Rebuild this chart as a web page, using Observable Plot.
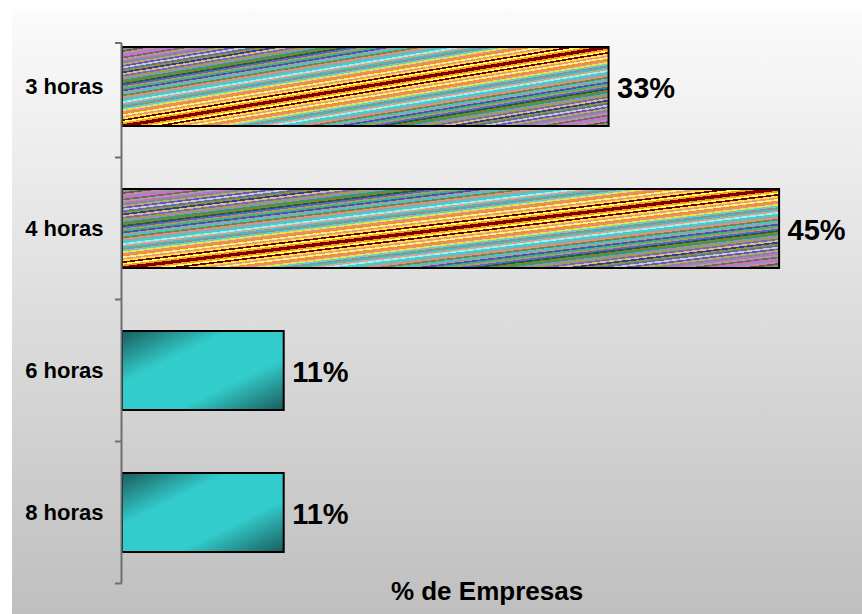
<!DOCTYPE html>
<html>
<head>
<meta charset="utf-8">
<script src="https://cdn.jsdelivr.net/npm/d3@7"></script>
<script src="https://cdn.jsdelivr.net/npm/@observablehq/plot@0.6"></script>
<style>
  html, body { margin: 0; padding: 0; background: #ffffff; }
  #chart { width: 862px; height: 614px; }
</style>
</head>
<body>
<div id="chart"></div>
<script>
// ---- data ----
const categories = ["3 horas", "4 horas", "6 horas", "8 horas"];
const values = [33.1, 44.7, 11.0, 11.0];
const xLabel = "% de Empresas";

// ---- styles ----
const stripeHalf = [
  "#e040e0","#8090a0","#606030","#d080c0","#9098a8","#e060e0","#707040","#a0a0b0",
  "#c070c0","#8088a0","#b0b060","#7050c0","#c8c8c8","#6070a0","#909040","#304090",
  "#d0c080","#8060c0","#a0a040","#9090c0","#30a060","#808030","#206040","#6060d0",
  "#a0a060","#40b080","#5050b0","#a0a0a0","#40c8c8","#808040","#e09080","#80b0b0",
  "#40d0d0","#a0f0f0","#e0a090","#40c0c0","#909090","#60d0d0","#f0e040","#e09080",
  "#f09030","#fff080","#e0a080","#ffe040","#700000","#ffff60","#f0a020","#800000"
];
const FONT = "'Liberation Sans', Arial, Helvetica, sans-serif";

const table = categories.map((c, i) => ({category: c, value: values[i], idx: i}));

const chart = Plot.plot({
  width: 862,
  height: 614,
  marginLeft: 122,
  marginRight: 5,
  marginTop: 14.5,
  marginBottom: 29.5,
  style: {background: "transparent", fontFamily: FONT, overflow: "visible"},
  x: {domain: [0, 50], axis: null},
  y: {domain: categories, axis: null, paddingInner: 0.445, paddingOuter: 0.2225},
  color: {type: "identity"},
  marks: [
    Plot.barX(table, {
      x: "value", y: "category",
      fill: d => d.idx < 2 ? "url(#stripes)" : "url(#teal)",
      stroke: "#000000", strokeWidth: 2
    }),
    Plot.text(table, {
      x: "value", y: "category",
      text: d => Math.round(d.value) + "%",
      textAnchor: "start", dx: 8, dy: 1.5,
      fontSize: 29, fontWeight: "bold", fill: "#000000"
    }),
    Plot.text(table, {
      x: 0, y: "category", text: "category",
      textAnchor: "end", dx: -19,
      fontSize: 22, fontWeight: "bold", fill: "#000000"
    }),
    Plot.text([xLabel], {
      frameAnchor: "bottom", text: d => d, dy: 15, dx: -3,
      fontSize: 26, fontWeight: "bold", fill: "#000000"
    })
  ]
});

document.getElementById("chart").appendChild(chart);

// ---- defs & background ----
const svg = d3.select(chart);
const defs = svg.insert("defs", ":first-child");

const bg = defs.append("linearGradient").attr("id", "bgGrad")
  .attr("x1", 0).attr("y1", 0).attr("x2", 0).attr("y2", 1);
bg.append("stop").attr("offset", 0).attr("stop-color", "#fbfbfb");
bg.append("stop").attr("offset", 1).attr("stop-color", "#bfbfbf");

const teal = defs.append("linearGradient").attr("id", "teal")
  .attr("x1", 0).attr("y1", 0).attr("x2", 1).attr("y2", 1);
[[0, "#1a5c5c"], [0.33, "#33cccc"], [0.67, "#33cccc"], [1, "#1a5c5c"]]
  .forEach(([o, c]) => teal.append("stop").attr("offset", o).attr("stop-color", c));

const stripes = defs.append("linearGradient").attr("id", "stripes")
  .attr("x1", 0).attr("y1", 0).attr("x2", 1).attr("y2", 1);
const full = stripeHalf.concat(stripeHalf.slice().reverse());
full.forEach((c, i) => {
  stripes.append("stop").attr("offset", i / full.length).attr("stop-color", c);
  stripes.append("stop").attr("offset", (i + 1) / full.length).attr("stop-color", c);
});

svg.insert("rect", "defs + *")
  .attr("x", 12).attr("y", 9).attr("width", 850).attr("height", 605)
  .attr("fill", "url(#bgGrad)");

// ---- axis line & ticks from the Plot scales ----
const ys = chart.scale("y");
const xs = chart.scale("x");
const x0 = xs.apply(0);
const gap = (ys.step - ys.bandwidth) / 2;
const firstStart = ys.apply(categories[0]);
const axisTop = firstStart - 4;
const axisBottom = ys.apply(categories[categories.length - 1]) + ys.bandwidth + gap;
const tickYs = [axisTop].concat(categories.slice(1).map(c => ys.apply(c) - gap)).concat([axisBottom]);

const axisG = svg.append("g").attr("stroke", "#6e6e6e").attr("stroke-width", 2);
axisG.append("line").attr("x1", x0 - 0.5).attr("x2", x0 - 0.5)
  .attr("y1", axisTop).attr("y2", axisBottom);
tickYs.forEach(y => axisG.append("line")
  .attr("x1", x0 - 7).attr("x2", x0 - 0.5).attr("y1", y).attr("y2", y));
</script>
</body>
</html>
